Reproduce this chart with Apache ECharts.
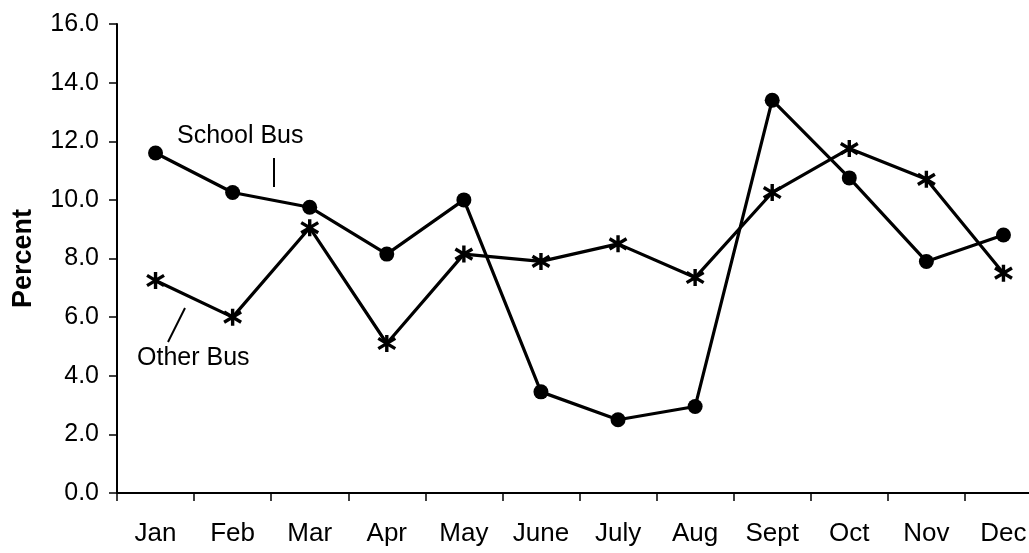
<!DOCTYPE html>
<html>
<head>
<meta charset="utf-8">
<script src="https://cdn.jsdelivr.net/npm/echarts@6/dist/echarts.min.js"></script>
<style>
html,body{margin:0;padding:0;background:#fff;overflow:hidden;width:1029px;height:553px;}
#chart{width:1045px;height:553px;}
</style>
</head>
<body>
<div id="chart"></div>
<script>
var months = ['Jan','Feb','Mar','Apr','May','June','July','Aug','Sept','Oct','Nov','Dec'];
var schoolBus = [11.6, 10.25, 9.75, 8.15, 10.0, 3.45, 2.5, 2.95, 13.4, 10.75, 7.9, 8.8];
var otherBus = [7.25, 6.0, 9.05, 5.1, 8.15, 7.9, 8.5, 7.35, 10.25, 11.75, 10.7, 7.5];
var yTicks = {min: 0, max: 16, interval: 2};

var FONT = '"Liberation Sans", Arial, sans-serif';
var starPath = 'path://M10 0 L10 20 M0.5 4 L19.5 16 M19.5 4 L0.5 16';

var chart = echarts.init(document.getElementById('chart'), null, {renderer: 'canvas'});
chart.setOption({
  backgroundColor: '#fff',
  animation: false,
  grid: {left: 117, top: 24, right: 3, bottom: 60, containLabel: false},
  xAxis: {
    type: 'category',
    data: months,
    boundaryGap: true,
    axisLine: {lineStyle: {color: '#000', width: 2}},
    axisTick: {show: true, length: 8, lineStyle: {color: '#000', width: 1.5}},
    axisLabel: {color: '#000', fontSize: 26, fontFamily: FONT, margin: 28, interval: 0},
    splitLine: {show: false}
  },
  yAxis: {
    type: 'value',
    min: yTicks.min, max: yTicks.max, interval: yTicks.interval,
    name: 'Percent',
    nameLocation: 'middle',
    nameGap: 80,
    nameTextStyle: {color: '#000', fontSize: 27, fontWeight: 'bold', fontFamily: FONT},
    axisLine: {show: true, lineStyle: {color: '#000', width: 2}},
    axisTick: {show: true, length: 8, lineStyle: {color: '#000', width: 1.5}},
    axisLabel: {color: '#000', fontSize: 25, fontFamily: FONT, margin: 18,
      formatter: function (v) { return v.toFixed(1); }},
    splitLine: {show: false}
  },
  series: [
    {
      name: 'School Bus',
      type: 'line',
      data: schoolBus,
      symbol: 'circle',
      symbolSize: 15,
      lineStyle: {color: '#000', width: 3.2},
      itemStyle: {color: '#000', borderWidth: 0}
    },
    {
      name: 'Other Bus',
      type: 'line',
      data: otherBus,
      symbol: starPath,
      symbolSize: 17,
      lineStyle: {color: '#000', width: 3.2},
      itemStyle: {color: '#000', borderColor: '#000', borderWidth: 3.4}
    }
  ],
  graphic: [
    {type: 'text', left: 177, top: 124, style: {text: 'School Bus', fill: '#000', font: '25px ' + FONT}},
    {type: 'line', shape: {x1: 274, y1: 158, x2: 274, y2: 187}, style: {stroke: '#000', lineWidth: 2}},
    {type: 'text', left: 137, top: 346, style: {text: 'Other Bus', fill: '#000', font: '25px ' + FONT}},
    {type: 'line', shape: {x1: 185, y1: 308, x2: 168, y2: 342}, style: {stroke: '#000', lineWidth: 2}}
  ]
});
</script>
</body>
</html>
